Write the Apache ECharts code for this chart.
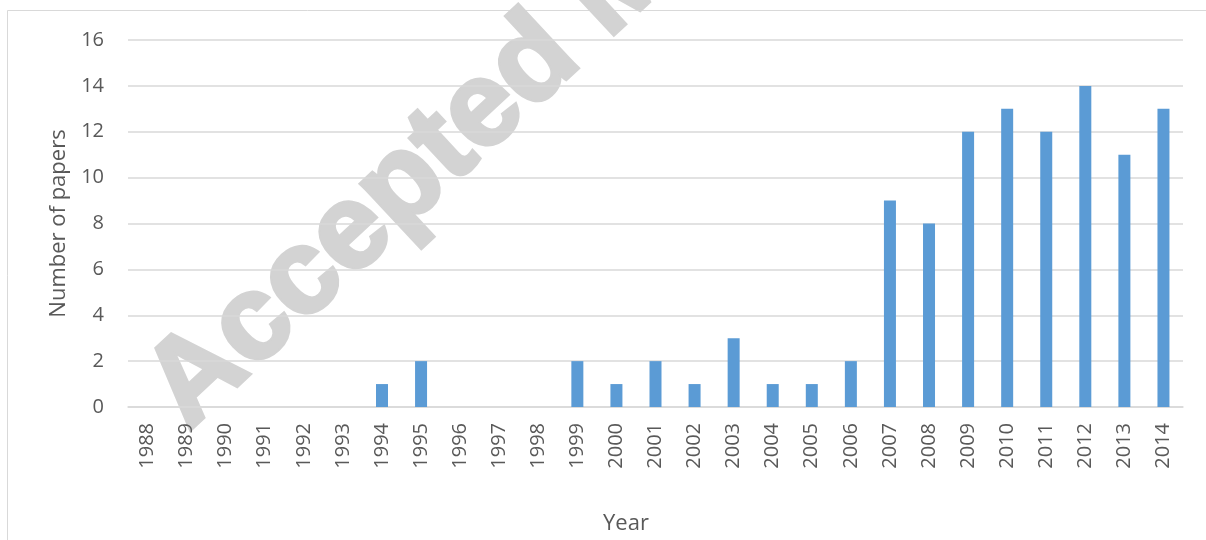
<!DOCTYPE html>
<html>
<head>
<meta charset="utf-8">
<script src="https://cdn.jsdelivr.net/npm/echarts@6/dist/echarts.min.js"></script>
<style>html,body{margin:0;padding:0;background:#fff;}#c{width:1206px;height:540px;}</style>
</head>
<body>
<div id="c"></div>
<script>
const years = ['1988','1989','1990','1991','1992','1993','1994','1995','1996','1997','1998','1999','2000','2001','2002','2003','2004','2005','2006','2007','2008','2009','2010','2011','2012','2013','2014'];
const papers = [0,0,0,0,0,0,1,2,0,0,0,2,1,2,1,3,1,1,2,9,8,12,13,12,14,11,13];
const yTicks = {min:0, max:16, interval:2};
const yTitle = 'Number of papers';
const xTitle = 'Year';
const watermark = 'Accepted Manuscript';

const chart = echarts.init(document.getElementById('c'), null, {renderer:'canvas'});
const FONT = '"Open Sans", "Liberation Sans", sans-serif';
const ang = 43 * Math.PI / 180;
const wmSize = 120;
const bx = 193, by = 436, off = 0.33 * wmSize;
chart.setOption({
  animation:false,
  backgroundColor:'#ffffff',
  grid:{left:128, right:23, top:40, bottom:132, containLabel:false},
  graphic:[
    {type:'rect', z:-10, silent:true, shape:{x:7.5,y:10.5,width:1400,height:700}, style:{fill:'none', stroke:'#d9d9d9', lineWidth:1}},
    {type:'text', z:-5, silent:true, x:bx - Math.sin(ang)*off, y:by - Math.cos(ang)*off, rotation:ang,
      style:{text:watermark, font:'bold ' + wmSize + 'px "Liberation Sans", Arial, sans-serif', fill:'#d3d3d3',
        stroke:'#d3d3d3', lineWidth:4, lineJoin:'round', align:'left', verticalAlign:'middle'}}
  ],
  xAxis:{
    type:'category', data:years,
    name:xTitle, nameLocation:'middle', nameGap:106,
    nameTextStyle:{color:'#595959', fontSize:22, fontFamily:FONT, padding:[0,59,0,0]},
    axisLine:{show:true, lineStyle:{color:'#d9d9d9', width:1.5}},
    axisTick:{show:false},
    axisLabel:{rotate:90, color:'#595959', fontSize:20, fontFamily:FONT, margin:16, interval:0}
  },
  yAxis:{
    type:'value', min:yTicks.min, max:yTicks.max, interval:yTicks.interval,
    name:yTitle, nameLocation:'middle', nameGap:57,
    nameTextStyle:{color:'#595959', fontSize:22, fontFamily:FONT},
    axisLine:{show:false}, axisTick:{show:false},
    axisLabel:{color:'#595959', fontSize:20, fontFamily:FONT, margin:24},
    splitLine:{lineStyle:{color:'#d9d9d9', width:1.5}}
  },
  series:[{
    type:'bar', data:papers, barWidth:12,
    itemStyle:{color:'#5b9bd5'}
  }]
});
</script>
</body>
</html>
